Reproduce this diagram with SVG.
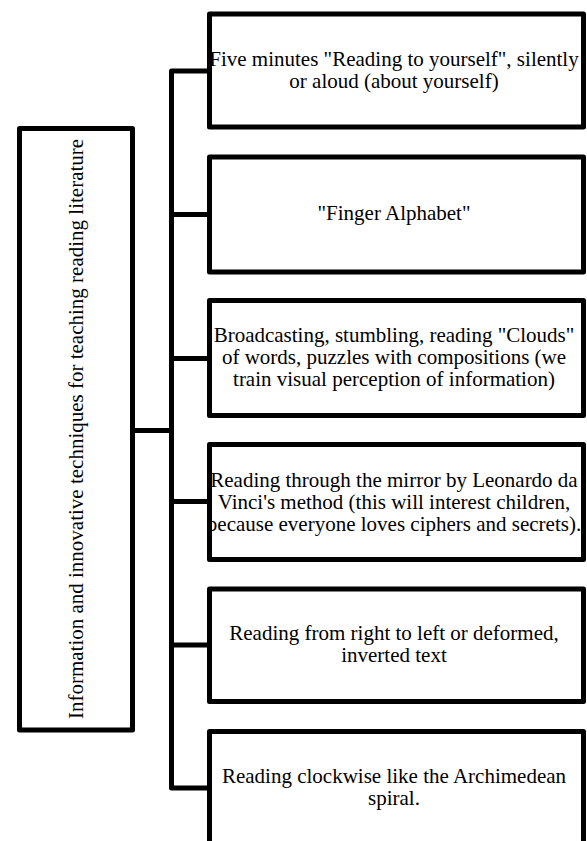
<svg xmlns="http://www.w3.org/2000/svg" width="587" height="841" viewBox="0 0 587 841">
<style>
.box{fill:#fff;stroke:#000;stroke-width:5;stroke-linejoin:round}
.con{fill:none;stroke:#000;stroke-width:5;stroke-linejoin:round}
text{font-family:"Liberation Serif","Times New Roman",serif;font-size:21px;fill:#000;text-anchor:middle}
</style>
<rect width="587" height="841" fill="#fff"/>
<g id="connectors">
<path class="con" d="M209.5,71 H171.5 V788 H209.5"/>
<path class="con" d="M171.5,214.5 H209.5 M171.5,358.5 H209.5 M171.5,501.5 H209.5 M171.5,645 H209.5"/>
<path class="con" d="M132.5,430.5 H171.5"/>
</g>
<g id="root">
<rect class="box" x="19.5" y="128.5" width="113" height="601.5"/>
<text transform="translate(83,429) rotate(-90)">Information and innovative techniques for teaching reading literature</text>
</g>
<g id="n1">
<rect class="box" x="209.5" y="14" width="374" height="113"/>
<text x="394" y="66">Five minutes "Reading to yourself", silently</text>
<text x="394" y="88">or aloud (about yourself)</text>
</g>
<g id="n2">
<rect class="box" x="209.5" y="157" width="374" height="115"/>
<text x="394" y="220">"Finger Alphabet"</text>
</g>
<g id="n3">
<rect class="box" x="209.5" y="300.5" width="374" height="115"/>
<text x="394" y="342">Broadcasting, stumbling, reading "Clouds"</text>
<text x="394" y="364">of words, puzzles with compositions (we</text>
<text x="394" y="386">train visual perception of information)</text>
</g>
<g id="n4">
<rect class="box" x="209.5" y="444.5" width="374" height="115"/>
<text x="394" y="486.5">Reading through the mirror by Leonardo da</text>
<text x="394" y="508.5">Vinci's method (this will interest children,</text>
<text x="394" y="530.5">because everyone loves ciphers and secrets).</text>
</g>
<g id="n5">
<rect class="box" x="209.5" y="589" width="374" height="112.5"/>
<text x="394" y="640">Reading from right to left or deformed,</text>
<text x="394" y="662">inverted text</text>
</g>
<g id="n6">
<rect class="box" x="209.5" y="731.5" width="374" height="125"/>
<text x="394" y="783">Reading clockwise like the Archimedean</text>
<text x="394" y="805">spiral.</text>
</g>
</svg>
